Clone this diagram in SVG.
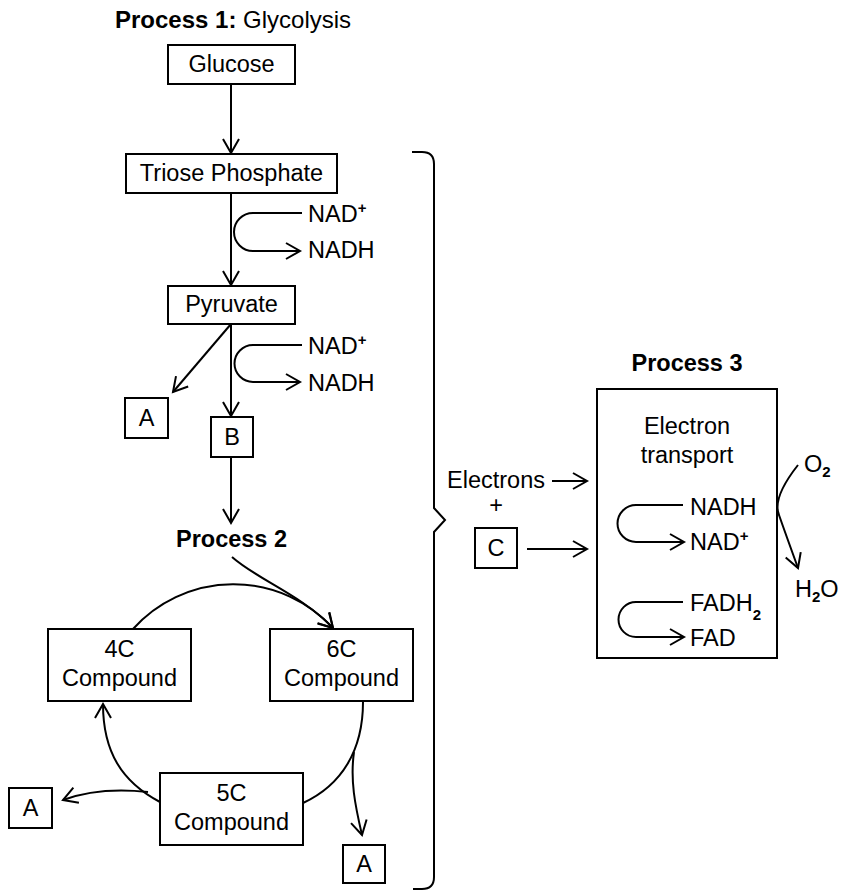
<svg xmlns="http://www.w3.org/2000/svg" width="854" height="896" viewBox="0 0 854 896">
<defs>
<marker id="ah" markerUnits="userSpaceOnUse" markerWidth="1" markerHeight="1" refX="0" refY="0" orient="auto" overflow="visible">
<path d="M-14,-8 L0,0 L-14,8" fill="none" stroke="#000" stroke-width="2"/>
</marker>
</defs>
<style>
text{font-family:"Liberation Sans",Arial,sans-serif;font-size:23.5px;fill:#000}
.b{font-weight:bold}
.c{text-anchor:middle}
.box{fill:#fff;stroke:#000;stroke-width:2}
.ln{fill:none;stroke:#000;stroke-width:2}
.ar{fill:none;stroke:#000;stroke-width:2;marker-end:url(#ah)}
.sup{font-size:15px;font-weight:bold}
.sub{font-size:15px;font-weight:bold}
</style>
<rect width="854" height="896" fill="#fff"/>

<g id="title1"><text x="115" y="28" style="font-size:24px"><tspan class="b">Process 1:</tspan> Glycolysis</text></g>

<g id="glucose"><rect class="box" x="168" y="45" width="127" height="39"/><text class="c" x="231.5" y="72">Glucose</text></g>
<g id="triose"><rect class="box" x="126" y="154" width="211" height="39"/><text class="c" x="231.5" y="181">Triose Phosphate</text></g>
<g id="nad1"><text x="308" y="222">NAD<tspan class="sup" dy="-9">+</tspan></text><text x="308" y="258">NADH</text></g>
<g id="pyruvate"><rect class="box" x="168" y="286" width="127" height="38"/><text class="c" x="231.5" y="312">Pyruvate</text></g>
<g id="nad2"><text x="308" y="354">NAD<tspan class="sup" dy="-9">+</tspan></text><text x="308" y="391">NADH</text></g>
<g id="a1"><rect class="box" x="125" y="398" width="43" height="40"/><text class="c" x="146.5" y="426">A</text></g>
<g id="b"><rect class="box" x="211" y="417" width="42" height="40"/><text class="c" x="232" y="445">B</text></g>
<g id="process2"><text class="c b" x="231.5" y="547">Process 2</text></g>
<g id="c4"><rect class="box" x="48" y="629" width="143" height="72"/><text class="c" x="119.5" y="657">4C</text><text class="c" x="119.5" y="686">Compound</text></g>
<g id="c6"><rect class="box" x="270" y="629" width="143" height="72"/><text class="c" x="341.5" y="657">6C</text><text class="c" x="341.5" y="686">Compound</text></g>
<g id="c5"><rect class="box" x="160" y="773" width="143" height="72"/><text class="c" x="231.5" y="801">5C</text><text class="c" x="231.5" y="830">Compound</text></g>
<g id="a2"><rect class="box" x="9" y="788" width="43" height="40"/><text class="c" x="30.5" y="816">A</text></g>
<g id="a3"><rect class="box" x="343" y="845" width="42" height="38"/><text class="c" x="364" y="872">A</text></g>

<g id="process3"><text class="c b" x="687" y="371">Process 3</text></g>
<g id="etc"><rect class="box" x="597" y="389" width="180" height="269"/><text class="c" x="687" y="434">Electron</text><text class="c" x="687" y="463">transport</text></g>
<g id="electrons"><text x="447" y="488">Electrons</text><text class="c" x="496" y="513">+</text></g>
<g id="c"><rect class="box" x="475" y="528" width="42" height="40"/><text class="c" x="496" y="556">C</text></g>
<g id="nadh3"><text x="690" y="515">NADH</text><text x="690" y="550">NAD<tspan class="sup" dy="-9">+</tspan></text></g>
<g id="fadh"><text x="690" y="611">FADH<tspan class="sub" dy="9">2</tspan></text><text x="690" y="646">FAD</text></g>
<g id="o2"><text x="804" y="472">O<tspan class="sub" dy="5">2</tspan></text></g>
<g id="h2o"><text x="795" y="597">H<tspan class="sub" dy="5">2</tspan><tspan dy="-5">O</tspan></text></g>

<g id="connectors">
<path class="ar" d="M231,84 V153"/>
<path class="ar" d="M231,193 V285"/>
<path class="ar" d="M302,213 H253 A19,19 0 0 0 253,251 H300"/>
<path class="ar" d="M231,324 V416"/>
<path class="ar" d="M231,324 L173,392"/>
<path class="ar" d="M302,345 H253 A18.5,18.5 0 0 0 253,382 H300"/>
<path class="ar" d="M231,457 V523"/>
<path class="ar" d="M232,557 C258,580 300,594 333,628"/>
<path class="ar" d="M133,629 A135,135 0 0 1 333,628"/>
<path class="ln" d="M363,702 C363,750 342,785 303,803"/>
<path class="ar" d="M160,802 C122,782 103,752 103,704"/>
<path class="ar" d="M148,792 C120,789 90,790 63,800"/>
<path class="ar" d="M354,752 C350,780 355,805 362,835"/>
<path class="ar" d="M552,481 H587"/>
<path class="ar" d="M527,549 H587"/>
<path class="ar" d="M683,505 H636 A18.5,18.5 0 0 0 636,542 H684"/>
<path class="ar" d="M683,602 H636 A17.5,17.5 0 0 0 636,637 H684"/>
<path class="ar" d="M798,465 Q772,498 779,515 Q786,535 798,568"/>
<path class="ln" d="M412,152 H422 Q434,152 434,164 V508 L445,520 L434,532 V877 Q434,889 422,889 H413"/>
</g>
</svg>
